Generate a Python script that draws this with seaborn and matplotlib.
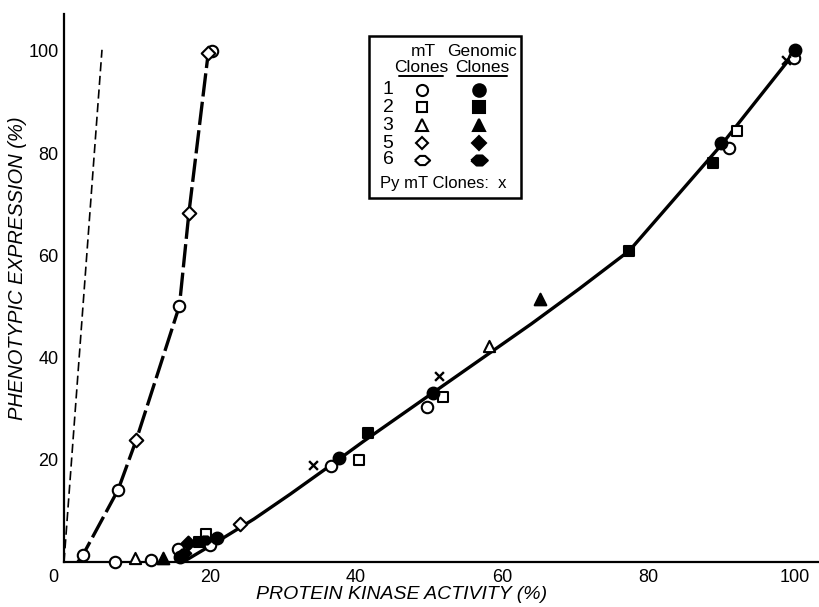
import numpy as np
import pandas as pd
import seaborn as sns
import matplotlib.pyplot as plt
import matplotlib.transforms as mtransforms
from matplotlib.patches import Rectangle
from matplotlib.lines import Line2D

# curves (vertices)
thin_dash_x = [0.0, 5.2]
thin_dash_y = [0.0, 100.2]
long_dash_x = [1.9, 2.6, 7.4, 9.9, 15.8, 17.1, 19.8]
long_dash_y = [0.0, 1.4, 14.1, 23.9, 50.1, 68.3, 100.2]
solid_x = [16.3, 21.0, 26.0, 31.0, 36.0, 41.0, 50.5, 57.0, 64.0, 70.5, 77.4, 90.0, 100.1]
solid_y = [0.0, 4.0, 8.4, 13.3, 18.4, 23.6, 33.1, 39.6, 46.6, 53.4, 60.9, 81.6, 99.8]

# points by symbol
open_circle_x = [2.6, 7.4, 15.8, 20.3, 7.0, 11.9, 15.6, 20.0, 36.6, 49.7, 91.0, 100.0]
open_circle_y = [1.4, 14.1, 50.1, 100.0, 0.0, 0.4, 2.5, 3.3, 18.8, 30.3, 81.0, 98.6]
open_square_x = [19.5, 40.4, 51.9, 92.1]
open_square_y = [5.5, 20.0, 32.3, 84.3]
open_triangle_x = [9.7, 58.2]
open_triangle_y = [0.8, 42.3]
open_diamond_x = [9.9, 17.1, 19.7, 24.1]
open_diamond_y = [23.9, 68.3, 99.6, 7.4]
filled_circle_x = [15.9, 21.0, 37.7, 50.5, 90.0, 100.1]
filled_circle_y = [1.0, 4.7, 20.4, 33.1, 82.0, 100.2]
filled_square_x = [18.5, 41.6, 77.4, 88.9]
filled_square_y = [3.9, 25.2, 60.9, 78.1]
filled_triangle_x = [13.6, 65.2]
filled_triangle_y = [0.8, 51.5]
filled_diamond_x = [17.0]
filled_diamond_y = [3.7]
filled_wide_x = [16.4, 19.3]
filled_wide_y = [1.8, 4.3]
pymt_x = [34.1, 51.4, 98.8]
pymt_y = [19.0, 36.4, 98.2]

legend_rows = ['1', '2', '3', '5', '6']

wide_diamond = [(-1.0, 0.0), (-0.35, 0.6), (0.35, 0.6), (1.0, 0.0), (0.35, -0.6), (-0.35, -0.6), (-1.0, 0.0)]

sns.set_theme(style='white')
plt.rcParams['font.family'] = ['Liberation Sans', 'DejaVu Sans']

fig = plt.figure(figsize=(8.2, 6.07), dpi=100)
ax = fig.add_axes([64 / 820, 45 / 607, 756 / 820, 548 / 607])

sns.lineplot(x=thin_dash_x, y=thin_dash_y, ax=ax, color='black', lw=1.2,
             sort=False, estimator=None)
ax.lines[-1].set_dashes((5.5, 2.7))
sns.lineplot(x=long_dash_x, y=long_dash_y, ax=ax, color='black', lw=2.4,
             sort=False, estimator=None)
ax.lines[-1].set_dashes((7, 1.6))
sns.lineplot(x=solid_x, y=solid_y, ax=ax, color='black', lw=2.4,
             sort=False, estimator=None)

groups = [
    (open_circle_x, open_circle_y, 'o', 'white', 68),
    (open_square_x, open_square_y, 's', 'white', 60),
    (open_triangle_x, open_triangle_y, '^', 'white', 65),
    (open_diamond_x, open_diamond_y, 'D', 'white', 48),
    (filled_circle_x, filled_circle_y, 'o', 'black', 72),
    (filled_square_x, filled_square_y, 's', 'black', 62),
    (filled_triangle_x, filled_triangle_y, '^', 'black', 70),
    (filled_diamond_x, filled_diamond_y, 'D', 'black', 50),
    (filled_wide_x, filled_wide_y, wide_diamond, 'black', 95),
]
for gx, gy, mk, fc, sz in groups:
    df = pd.DataFrame({'x': gx, 'y': gy})
    sns.scatterplot(data=df, x='x', y='y', ax=ax, marker=mk, s=sz, facecolor=fc,
                    edgecolor='black', linewidth=1.5, zorder=3, clip_on=False)
sns.scatterplot(x=pymt_x, y=pymt_y, ax=ax, marker='x', s=40, color='black',
                linewidth=1.7, zorder=3)

ax.set_xlim(0, 103.5)
ax.set_ylim(0, 107.2)
ax.set_xticks([0, 20, 40, 60, 80, 100])
ax.set_yticks([20, 40, 60, 80, 100])
ax.tick_params(direction='in', length=7, width=1.4, labelsize=13, color='black',
               labelcolor='black', pad=4)
ax.tick_params(axis='x', pad=5)
for side in ['top', 'right']:
    ax.spines[side].set_visible(False)
for side in ['left', 'bottom']:
    ax.spines[side].set_linewidth(1.6)
    ax.spines[side].set_color('black')

# nudge the "0" label left of the spine
lab0 = ax.get_xticklabels()[0]
lab0.set_transform(lab0.get_transform() + mtransforms.ScaledTranslation(-8 / 72, 0, fig.dpi_scale_trans))

ax.set_xlabel('PROTEIN KINASE ACTIVITY (%)', fontsize=14, style='italic', color='black')
ax.xaxis.set_label_coords((402 - 64) / 756, -0.044)
ax.set_ylabel('PHENOTYPIC EXPRESSION (%)', fontsize=14.5, style='italic', color='black')
ax.yaxis.set_label_coords(-0.049, (562 - 268) / 548)

# legend panel, built by hand
def fx(px):
    return px / 820

def fy(py):
    return 1 - py / 607

fig.patches.append(Rectangle((fx(369), fy(198)), fx(521) - fx(369), fy(36) - fy(198),
                             transform=fig.transFigure, fill=False, lw=1.8, ec='black'))
tkw = dict(fontsize=12.5, ha='center', va='center', color='black')
fig.text(fx(423), fy(52), 'mT', **tkw)
fig.text(fx(421), fy(67), 'Clones', **tkw)
fig.text(fx(482), fy(52), 'Genomic', **tkw)
fig.text(fx(482), fy(67), 'Clones', **tkw)
fig.lines.append(Line2D([fx(399), fx(443)], [fy(76), fy(76)], transform=fig.transFigure, color='black', lw=1.4))
fig.lines.append(Line2D([fx(457), fx(507)], [fy(76), fy(76)], transform=fig.transFigure, color='black', lw=1.4))
row_y = [90, 107, 125, 143, 160]
row_marks = ['o', 's', '^', 'D', wide_diamond]
row_sizes = [8, 7.5, 8, 6.5, 11]
for lab, py, mk, ms in zip(legend_rows, row_y, row_marks, row_sizes):
    fig.text(fx(388), fy(py), lab, fontsize=14, ha='center', va='center', color='black')
    fig.lines.append(Line2D([fx(422)], [fy(py)], transform=fig.transFigure, marker=mk, ms=ms,
                            mfc='white', mec='black', mew=1.5, ls='none'))
    fig.lines.append(Line2D([fx(479)], [fy(py)], transform=fig.transFigure, marker=mk, ms=ms + 1,
                            mfc='black', mec='black', mew=1.5, ls='none'))
fig.text(fx(443), fy(184), 'Py mT Clones:  x', fontsize=12, ha='center', va='center', color='black')

fig.savefig('out.png', dpi=100)
